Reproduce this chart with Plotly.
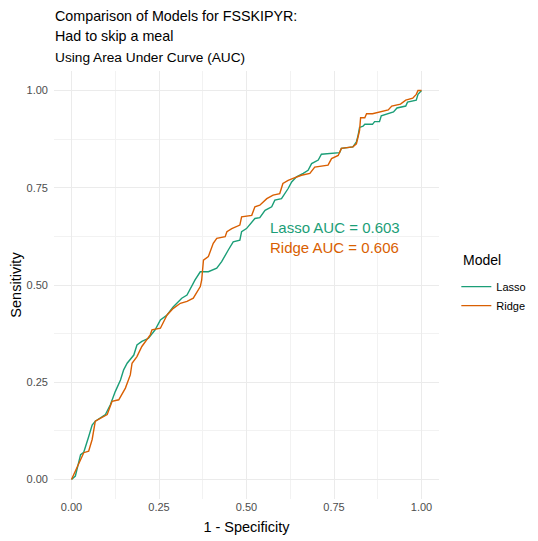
import plotly.graph_objects as go

# ROC points (1 - specificity, sensitivity)
lasso_fpr = [0.0, 0.011, 0.026, 0.035, 0.049, 0.059, 0.068, 0.097, 0.111, 0.125, 0.14, 0.149, 0.159,
             0.178, 0.187, 0.201, 0.22, 0.239, 0.254, 0.273, 0.291, 0.315, 0.33, 0.344, 0.353, 0.368,
             0.391, 0.415, 0.429, 0.448, 0.462, 0.481, 0.486, 0.5, 0.515, 0.524, 0.538, 0.553, 0.572,
             0.581, 0.6, 0.61, 0.619, 0.629, 0.643, 0.662, 0.676, 0.686, 0.705, 0.714, 0.766, 0.771,
             0.804, 0.814, 0.818, 0.823, 0.833, 0.838, 0.86, 0.866, 0.88, 0.885, 0.92, 0.93, 0.955,
             0.96, 0.985, 0.99, 1.0]
lasso_tpr = [0.0, 0.009, 0.064, 0.07, 0.11, 0.14, 0.15, 0.167, 0.192, 0.226, 0.256, 0.282, 0.299,
             0.32, 0.346, 0.355, 0.363, 0.385, 0.41, 0.423, 0.444, 0.466, 0.474, 0.5, 0.513, 0.534,
             0.534, 0.543, 0.56, 0.59, 0.611, 0.615, 0.637, 0.645, 0.662, 0.671, 0.673, 0.692, 0.701,
             0.718, 0.722, 0.735, 0.748, 0.765, 0.778, 0.787, 0.795, 0.812, 0.821, 0.836, 0.84, 0.851,
             0.855, 0.868, 0.881, 0.905, 0.908, 0.913, 0.913, 0.92, 0.92, 0.935, 0.945, 0.955, 0.96,
             0.97, 0.975, 0.99, 1.0]

ridge_fpr = [0.0, 0.021, 0.035, 0.049, 0.059, 0.068, 0.102, 0.116, 0.135, 0.154, 0.168, 0.173, 0.187,
             0.201, 0.216, 0.225, 0.23, 0.254, 0.273, 0.291, 0.311, 0.33, 0.348, 0.368, 0.372, 0.377,
             0.391, 0.405, 0.415, 0.439, 0.444, 0.458, 0.481, 0.486, 0.515, 0.524, 0.538, 0.558, 0.576,
             0.595, 0.604, 0.619, 0.633, 0.657, 0.681, 0.695, 0.733, 0.743, 0.762, 0.771, 0.804, 0.814,
             0.823, 0.826, 0.838, 0.843, 0.86, 0.88, 0.905, 0.915, 0.94, 0.955, 0.975, 0.985, 0.99, 1.0]
ridge_tpr = [0.0, 0.043, 0.069, 0.073, 0.103, 0.15, 0.167, 0.201, 0.205, 0.235, 0.269, 0.299, 0.316,
             0.342, 0.359, 0.372, 0.385, 0.389, 0.423, 0.44, 0.453, 0.458, 0.466, 0.496, 0.513, 0.564,
             0.573, 0.607, 0.62, 0.624, 0.637, 0.645, 0.654, 0.675, 0.679, 0.701, 0.705, 0.722, 0.731,
             0.735, 0.761, 0.769, 0.774, 0.782, 0.787, 0.803, 0.808, 0.825, 0.833, 0.851, 0.855, 0.863,
             0.897, 0.93, 0.93, 0.94, 0.94, 0.945, 0.95, 0.96, 0.965, 0.975, 0.98, 0.99, 1.0, 1.0]

models = ["Lasso", "Ridge"]
auc_values = [0.603, 0.606]
colors = ["#1B9E77", "#D95F02"]
tick_vals = [0, 0.25, 0.5, 0.75, 1]
tick_text = ["0.00", "0.25", "0.50", "0.75", "1.00"]
title_lines = ["Comparison of Models for FSSKIPYR:", "Had to skip a meal"]

FONT = "Liberation Sans, Arial, sans-serif"

fig = go.Figure()
fig.add_trace(go.Scatter(x=lasso_fpr, y=lasso_tpr, mode="lines", name=models[0],
                         line=dict(color=colors[0], width=1.4)))
fig.add_trace(go.Scatter(x=ridge_fpr, y=ridge_tpr, mode="lines", name=models[1],
                         line=dict(color=colors[1], width=1.4)))

# AUC labels
for i, (m, auc) in enumerate(zip(models, auc_values)):
    fig.add_annotation(x=0.752, y=0.649 - i * 0.052, xref="x", yref="y",
                       text=f"{m} AUC = {auc:.3f}", showarrow=False,
                       font=dict(family=FONT, size=15, color=colors[i]))

# title (one annotation per line, keeps it inside the page) + subtitle
for i, line in enumerate(title_lines):
    fig.add_annotation(x=-0.002, y=1.1294 - i * 0.0466, xref="paper", yref="paper",
                       xanchor="left", yanchor="middle", text=line, showarrow=False,
                       font=dict(family=FONT, size=14.3, color="black"))
fig.add_annotation(x=-0.002, y=1.031, xref="paper", yref="paper", xanchor="left", yanchor="middle",
                   text="Using Area Under Curve (AUC)", showarrow=False,
                   font=dict(family=FONT, size=13.7, color="black"))

# legend title drawn separately so the spacing matches
fig.add_annotation(x=1.058, y=0.558, xref="paper", yref="paper", xanchor="left", yanchor="middle",
                   text="Model", showarrow=False,
                   font=dict(family=FONT, size=14, color="black"))

axis_common = dict(
    tickvals=tick_vals, ticktext=tick_text,
    showgrid=True, gridcolor="#EBEBEB", gridwidth=1.1,
    minor=dict(dtick=0.125, tick0=0, showgrid=True, gridcolor="#F2F2F2", gridwidth=0.6),
    zeroline=False, showline=False, ticks="", automargin=False,
    tickfont=dict(family=FONT, size=11, color="#4D4D4D"),
)

fig.update_xaxes(range=[-0.05, 1.05], title=dict(text="1 - Specificity", standoff=9,
                 font=dict(family=FONT, size=14.5, color="black")), **axis_common)
fig.update_yaxes(range=[-0.05, 1.05], ticklabelstandoff=5,
                 title=dict(text="Sensitivity", standoff=3,
                 font=dict(family=FONT, size=14.5, color="black")), **axis_common)

# page body has an 8px margin, so the figure is 8px smaller than the window
fig.update_layout(
    width=530, height=533,
    margin=dict(l=45.5, r=98.5, t=62.5, b=41.5, autoexpand=False),
    plot_bgcolor="white", paper_bgcolor="white",
    font=dict(family=FONT),
    showlegend=True,
    legend=dict(x=1.045, y=0.53, xanchor="left", yanchor="top",
                font=dict(family=FONT, size=11, color="black"),
                itemwidth=30, bgcolor="rgba(0,0,0,0)"),
)

fig.write_html("out.html")
